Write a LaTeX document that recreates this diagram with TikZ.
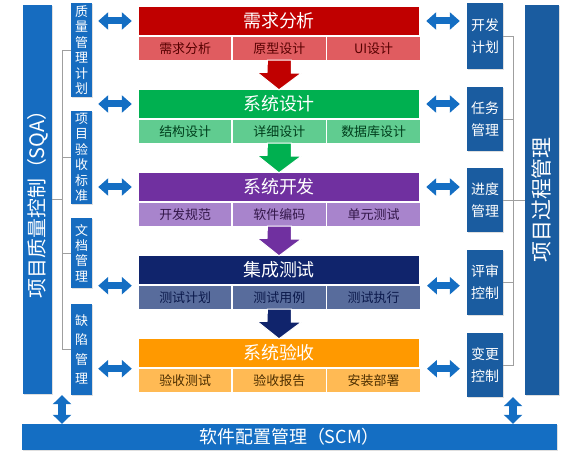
\documentclass[tikz,border=0pt]{standalone}
\usepackage{fontspec}
\setmainfont{Noto Sans CJK SC}
\usepackage{xcolor}
\usepackage{tikz}
\usetikzlibrary{arrows.meta,positioning,calc,shadows}
\definecolor{reqred}{RGB}{192,0,0}
\definecolor{reqsub}{RGB}{224,92,96}
\definecolor{desgreen}{RGB}{0,176,80}
\definecolor{dessub}{RGB}{96,204,144}
\definecolor{devpurple}{RGB}{112,48,160}
\definecolor{devsub}{RGB}{168,132,204}
\definecolor{testnavy}{RGB}{16,36,108}
\definecolor{testsub}{RGB}{88,108,156}
\definecolor{accorange}{RGB}{255,153,0}
\definecolor{accsub}{RGB}{255,186,84}
\definecolor{qblue}{RGB}{22,108,192}
\definecolor{pblue}{RGB}{26,92,160}
\definecolor{linkblue}{RGB}{20,110,195}

\begin{document}
\begin{tikzpicture}[x=1bp, y=-1bp, every node/.style={text=white, inner sep=0pt},
  stagetitle/.style={minimum width=280bp, minimum height=28bp, font=\fontsize{18}{20}\selectfont},
  stagecell/.style={minimum width=92.33bp, minimum height=23bp, font=\fontsize{13}{15}\selectfont},
  qbox/.style={fill=qblue, text width=21bp, align=center, font=\fontsize{13}{15.5}\selectfont, drop shadow={shadow xshift=1bp, shadow yshift=-1bp, opacity=.25}},
  pbox/.style={fill=pblue, text width=36bp, align=center, font=\fontsize{14}{22}\selectfont, drop shadow={shadow xshift=1bp, shadow yshift=-1bp, opacity=.25}},
  bigbar/.style={font=\fontsize{20}{22}\selectfont, drop shadow={shadow xshift=1bp, shadow yshift=-1bp, opacity=.25}},
  downarr/.style={draw=white, line width=1bp},
  hlink/.style={draw=linkblue, line width=7bp, {Triangle[width=17bp,length=10bp]}-{Triangle[width=17bp,length=10bp]}},
  vlink/.style={draw=linkblue, line width=8bp, {Triangle[width=18bp,length=9bp]}-{Triangle[width=18bp,length=9bp]}},
  bracket/.style={draw=gray!75, line width=0.9bp}]
\useasboundingbox (0,0) rectangle (574,454);

\node[stagetitle, fill=reqred] (req) at (279,21) {需求分析};
\node[stagecell, fill=reqsub, text=reqred!45!black, anchor=north west] (req1) at ([yshift=-1.5bp]req.south west) {需求分析};
\node[stagecell, fill=reqsub, text=reqred!45!black, right=1.5bp of req1] (req2) {原型设计};
\node[stagecell, fill=reqsub, text=reqred!45!black, right=1.5bp of req2] (req3) {UI设计};

\node[stagetitle, fill=desgreen] (des) at (279,104) {系统设计};
\node[stagecell, fill=dessub, text=desgreen!35!black, anchor=north west] (des1) at ([yshift=-1.5bp]des.south west) {结构设计};
\node[stagecell, fill=dessub, text=desgreen!35!black, right=1.5bp of des1] (des2) {详细设计};
\node[stagecell, fill=dessub, text=desgreen!35!black, right=1.5bp of des2] (des3) {数据库设计};

\node[stagetitle, fill=devpurple] (dev) at (279,187) {系统开发};
\node[stagecell, fill=devsub, text=devpurple!45!black, anchor=north west] (dev1) at ([yshift=-1.5bp]dev.south west) {开发规范};
\node[stagecell, fill=devsub, text=devpurple!45!black, right=1.5bp of dev1] (dev2) {软件编码};
\node[stagecell, fill=devsub, text=devpurple!45!black, right=1.5bp of dev2] (dev3) {单元测试};

\node[stagetitle, fill=testnavy] (tst) at (279,270) {集成测试};
\node[stagecell, fill=testsub, text=testnavy!70!black, anchor=north west] (tst1) at ([yshift=-1.5bp]tst.south west) {测试计划};
\node[stagecell, fill=testsub, text=testnavy!70!black, right=1.5bp of tst1] (tst2) {测试用例};
\node[stagecell, fill=testsub, text=testnavy!70!black, right=1.5bp of tst2] (tst3) {测试执行};

\node[stagetitle, fill=accorange] (acc) at (279,353) {系统验收};
\node[stagecell, fill=accsub, text=accorange!30!black, anchor=north west] (acc1) at ([yshift=-1.5bp]acc.south west) {验收测试};
\node[stagecell, fill=accsub, text=accorange!30!black, right=1.5bp of acc1] (acc2) {验收报告};
\node[stagecell, fill=accsub, text=accorange!30!black, right=1.5bp of acc2] (acc3) {安装部署};

\filldraw[downarr, fill=reqred] ([xshift=-12bp]req2.south) -- ++(24,0) -- ++(0,13) -- ++(10,0) -- (des.north) -- ++(-22,-17.5) -- ++(10,0) -- cycle;
\filldraw[downarr, fill=desgreen] ([xshift=-12bp]des2.south) -- ++(24,0) -- ++(0,13) -- ++(10,0) -- (dev.north) -- ++(-22,-17.5) -- ++(10,0) -- cycle;
\filldraw[downarr, fill=devpurple] ([xshift=-12bp]dev2.south) -- ++(24,0) -- ++(0,13) -- ++(10,0) -- (tst.north) -- ++(-22,-17.5) -- ++(10,0) -- cycle;
\filldraw[downarr, fill=testnavy] ([xshift=-12bp]tst2.south) -- ++(24,0) -- ++(0,13) -- ++(10,0) -- (acc.north) -- ++(-22,-17.5) -- ++(10,0) -- cycle;

\node[qbox, minimum height=94bp] (qplan) at (81.5,50) {质\\量\\管\\理\\计\\划};
\node[qbox, minimum height=93bp] (qaccept) at (81.5,157.5) {项\\目\\验\\收\\标\\准};
\node[qbox, minimum height=70bp] (qdoc) at (81.5,253) {文\\档\\管\\理};
\node[qbox, minimum height=91bp, font=\fontsize{13}{19.5}\selectfont] (qdefect) at (81.5,349.5) {缺\\陷\\管\\理};

\node[pbox, minimum height=66bp] (pplan) at (485,36) {开发\\计划};
\node[pbox, minimum height=64bp] (ptask) at (485,119) {任务\\管理};
\node[pbox, minimum height=64bp] (pprog) at (485,200) {进度\\管理};
\node[pbox, minimum height=65bp] (preview) at (485,282.5) {评审\\控制};
\node[pbox, minimum height=64bp] (pchange) at (485,365) {变更\\控制};

\node[bigbar, fill=qblue, rotate=90, minimum width=389bp, minimum height=29bp] (sqa) at (37.5,199.5) {项目质量控制（SQA）};
\node[bigbar, fill=pblue, rotate=90, minimum width=390bp, minimum height=34bp, font=\fontsize{21}{24}\selectfont] (proc) at (542,200) {项目过程管理};
\node[bigbar, fill=linkblue, minimum width=535bp, minimum height=26bp, font=\fontsize{18}{20}\selectfont] (scm) at (289.5,437) {软件配置管理（SCM）};

\coordinate (lbr) at (62,0);
\coordinate (rbr) at (513,0);
\draw[bracket] (qplan.west) -- (qplan.west -| lbr) -- (qdefect.west -| lbr) -- (qdefect.west);
\draw[bracket] (qaccept.west) -- (qaccept.west -| lbr);
\draw[bracket] (qdoc.west) -- (qdoc.west -| lbr);
\draw[bracket] (sqa.south -| lbr) -- (sqa.south);
\draw[bracket] (pplan.east) -- (pplan.east -| rbr) -- (pchange.east -| rbr) -- (pchange.east);
\draw[bracket] (ptask.east) -- (ptask.east -| rbr);
\draw[bracket] (pprog.east) -- (pprog.east -| rbr);
\draw[bracket] (preview.east) -- (preview.east -| rbr);
\draw[bracket] (proc.north -| rbr) -- (proc.north);

\draw[hlink, shorten <=6bp, shorten >=7bp] (qplan.east |- req.west) -- (req.west);
\draw[hlink, shorten <=6bp, shorten >=7bp] (qaccept.east |- des.west) -- (des.west);
\draw[hlink, shorten <=6bp, shorten >=7bp] (qdoc.east |- dev.west) -- (dev.west);
\draw[hlink, shorten <=6bp, shorten >=7bp] (qdefect.east |- tst1.north west) -- (tst1.north west);
\draw[hlink, shorten <=6bp, shorten >=7bp] (qdefect.east |- acc1.north west) -- (acc1.north west);
\draw[hlink, shorten <=7bp, shorten >=7bp] (req.east) -- (req.east -| pplan.west);
\draw[hlink, shorten <=7bp, shorten >=7bp] (des.east) -- (des.east -| ptask.west);
\draw[hlink, shorten <=7bp, shorten >=7bp] (dev.east) -- (dev.east -| pprog.west);
\draw[hlink, shorten <=7bp, shorten >=7bp] (tst3.north east) -- (tst3.north east -| preview.west);
\draw[hlink, shorten <=7bp, shorten >=7bp] (acc3.north east) -- (acc3.north east -| pchange.west);

\draw[vlink] (qdefect.south -| lbr) -- (scm.north -| lbr);
\draw[vlink] (pchange.south -| rbr) -- (scm.north -| rbr);
\end{tikzpicture}
\end{document}
